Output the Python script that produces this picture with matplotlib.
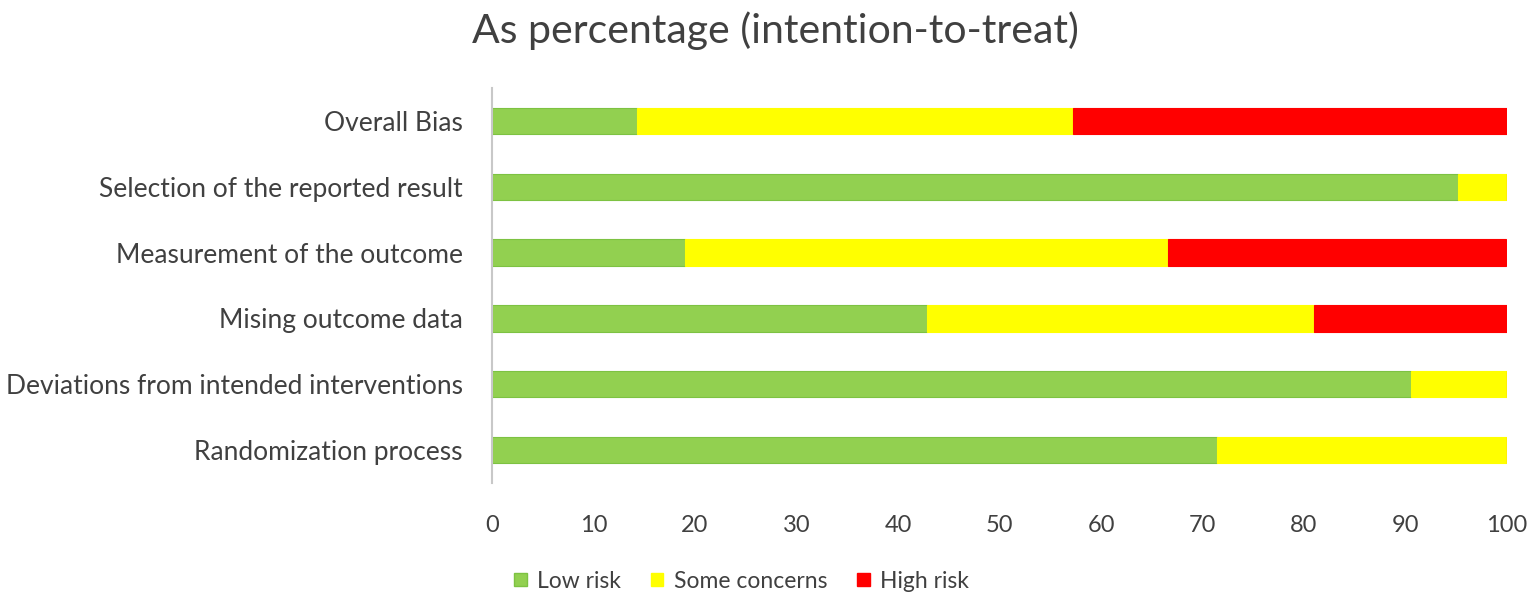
import numpy as np
import matplotlib.pyplot as plt
from matplotlib.patches import Patch

plt.rcParams['font.family'] = ['Lato', 'DejaVu Sans']

# data (percent of 21 studies), bottom-to-top order
domains = ["Randomization process",
           "Deviations from intended interventions",
           "Mising outcome data",
           "Measurement of the outcome",
           "Selection of the reported result",
           "Overall Bias"]
low_risk = [71.4, 90.5, 42.9, 19.0, 95.2, 14.3]
some_concerns = [28.6, 9.5, 38.1, 47.6, 4.8, 42.9]
high_risk = [0.0, 0.0, 19.0, 33.3, 0.0, 42.9]

green = "#92D050"
yellow = "#FFFF00"
red = "#FF0000"
txt = "#404040"

fig = plt.figure(figsize=(15.35, 6.04), dpi=100)
ax = fig.add_axes([0.3205, 0.2003, 0.6613, 0.654])

y = np.arange(len(domains))
low = np.array(low_risk)
some = np.array(some_concerns)
high = np.array(high_risk)
ax.barh(y, low, height=0.4, color=green, edgecolor="#7DC242", linewidth=0.8)
ax.barh(y, some, left=low, height=0.4, color=yellow, edgecolor=yellow, linewidth=0.8)
ax.barh(y, high, left=low + some, height=0.4, color=red, edgecolor=red, linewidth=0.8)

ax.set_xlim(0, 100)
ax.set_ylim(-0.5, len(domains) - 0.5)
ax.set_xticks(range(0, 101, 10))
ax.set_yticks(y)
ax.set_yticklabels(domains)
ax.tick_params(axis='both', length=0, colors=txt)
ax.tick_params(axis='x', pad=23, labelsize=17)
ax.tick_params(axis='y', pad=21, labelsize=19)
for s in ['top', 'right', 'bottom']:
    ax.spines[s].set_visible(False)
ax.spines['left'].set_color("#C8C8C8")
ax.spines['left'].set_linewidth(1.5)

fig.text(0.505, 0.95, "As percentage (intention-to-treat)", ha='center', va='center',
         fontsize=29.5, color=txt)

handles = [Patch(facecolor=green, edgecolor="#7DC242"),
           Patch(facecolor=yellow, edgecolor=yellow),
           Patch(facecolor=red, edgecolor=red)]
fig.legend(handles, ["Low risk", "Some concerns", "High risk"], loc='center',
           bbox_to_anchor=(0.483, 0.038), ncol=3, frameon=False, fontsize=16.5,
           labelcolor=txt, handlelength=0.55, handleheight=0.55, handletextpad=0.45,
           columnspacing=1.3)

fig.savefig("out.png", dpi=100)
